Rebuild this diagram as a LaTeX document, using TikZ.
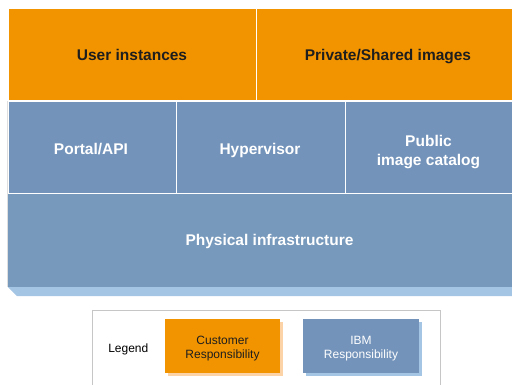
\documentclass[tikz,border=0pt]{standalone}
\usepackage{fontspec}
\setmainfont{Liberation Sans}
\definecolor{corange}{HTML}{F29400}
\definecolor{cblue}{HTML}{7393BA}
\definecolor{cphys}{HTML}{7799BC}
\definecolor{cbshadow}{HTML}{A4C5E4}
\definecolor{coshadow}{HTML}{FBD3A6}
\definecolor{ctext}{HTML}{1E1E1E}
\tikzset{
  cellO/.style={fill=corange, draw=white, line width=1pt},
  cellB/.style={fill=cblue, draw=white, line width=1pt},
  big/.style={font=\fontsize{15.5}{19}\selectfont\bfseries, align=center},
  small/.style={font=\fontsize{12}{14}\selectfont, align=center},
}
\begin{document}
\begin{tikzpicture}[x=1pt,y=-1pt]
\useasboundingbox (0,0) rectangle (512,384);
% shadow of stack
\fill[cbshadow] (8,287) -- (520,287) -- (520,296) -- (17,296) -- cycle;
% physical
\fill[cphys] (8,193) rectangle (520,287);
\draw[white, line width=1pt] (8,193) -- (520,193);
\draw[gray!25, line width=0.6pt] (7.5,101) -- (7.5,287);
% middle row
\draw[cellB] (8,101) rectangle (176.5,193);
\draw[cellB] (176.5,101) rectangle (345,193);
\draw[cellB] (345,101) rectangle (530,193);
% top row
\draw[cellO] (8,8) rectangle (256,100.5);
\draw[cellO] (256,8) rectangle (530,100.5);
% labels
\node[big, text=ctext, anchor=base] (ui) at (132,60.7) {User instances};
\node[big, text=ctext, anchor=base] (ps) at (388,60.7) {Private/Shared images};
\node[big, text=white, anchor=base] (pa) at (91,154.3) {Portal/API};
\node[big, text=white, anchor=base] (hv) at (260,154.3) {Hypervisor};
\node[big, text=white] (pc) at (428.5,152) {Public\\image catalog};
\node[big, text=white, anchor=base] (pi) at (269.5,245) {Physical infrastructure};
% legend
\draw[gray!45, line width=0.8pt] (92.5,390) -- (92.5,310) -- (440,310) -- (440,390);
\node[small, anchor=base] (lg) at (128.3,352) {Legend};
\fill[coshadow] (168,322) rectangle (283,376);
\fill[corange] (165,319) rectangle (280,373);
\node[small, text=ctext] (cr) at (222.5,349) {Customer\\Responsibility};
\fill[cbshadow] (306,322) rectangle (422,376);
\fill[cblue] (303,319) rectangle (419,373);
\node[small, text=white] (ir) at (361,349) {IBM\\Responsibility};
\end{tikzpicture}
\end{document}
